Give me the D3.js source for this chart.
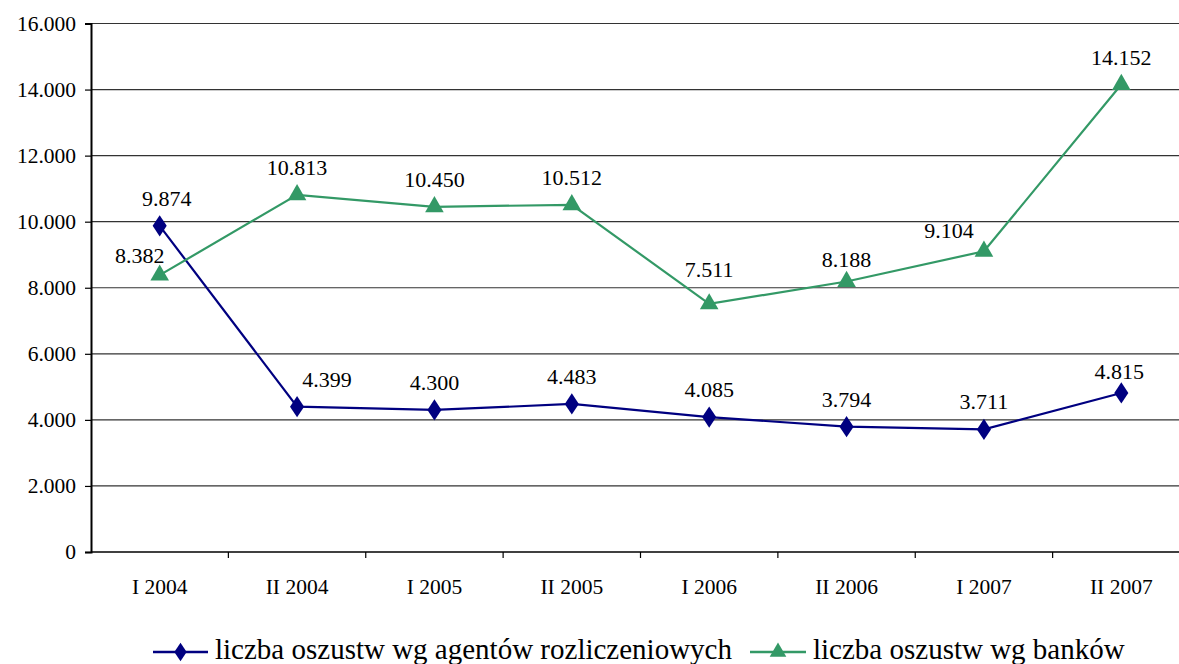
<!DOCTYPE html>
<html>
<head>
<meta charset="utf-8">
<script src="https://cdn.jsdelivr.net/npm/d3@7"></script>
<style>
  html, body { margin: 0; padding: 0; background: #fff; }
  svg { display: block; font-family: "Liberation Serif", "Times New Roman", serif; }
</style>
</head>
<body>
<svg id="chart" width="1179" height="664"></svg>
<script>
// Half-year periods
const categories = ["I 2004", "II 2004", "I 2005", "II 2005", "I 2006", "II 2006", "I 2007", "II 2007"];
// Number of frauds reported by settlement agents
const agentValues = [9874, 4399, 4300, 4483, 4085, 3794, 3711, 4815];
// Number of frauds reported by banks
const bankValues = [8382, 10813, 10450, 10512, 7511, 8188, 9104, 14152];
const seriesNames = ["liczba oszustw wg agentów rozliczeniowych", "liczba oszustw wg banków"];
const yTicks = [0, 2000, 4000, 6000, 8000, 10000, 12000, 14000, 16000];

// Label nudges (dx, dy from the default spot above each point)
const agentLabelNudge = [[7, 0], [30, 0], [0, 0], [0, 0], [0, 0], [0, 0], [0, 0], [-2, 6]];
const bankLabelNudge = [[-20, 8], [0, 0], [0, 0], [0, 0], [0, -7], [0, 5], [-35, 7], [0, 0]];

const svg = d3.select("#chart");
const margin = { left: 91, right: -11, top: 23.5, bottom: 112 };
const W = 1179, H = 664;
const FONT = "'Liberation Serif', 'Times New Roman', serif";

const x = d3.scaleBand().domain(categories).range([margin.left, W - margin.right]);
const y = d3.scaleLinear().domain([0, 16000]).range([H - margin.bottom, margin.top]);

const fmt = v => v === 0 ? "0" : d3.format(",")(v).replace(/,/g, ".");

// Horizontal gridlines
svg.append("g")
  .selectAll("line")
  .data(yTicks.filter(t => t > 0))
  .join("line")
  .attr("x1", margin.left).attr("x2", W - margin.right)
  .attr("y1", d => y(d)).attr("y2", d => y(d))
  .attr("stroke", "#333").attr("stroke-width", 1.2);

// Y axis
const yAxis = svg.append("g")
  .attr("transform", `translate(${margin.left},0)`)
  .call(d3.axisLeft(y).tickValues(yTicks).tickFormat(fmt).tickSize(6).tickPadding(9));
yAxis.attr("font-family", null).attr("font-size", null);
yAxis.select(".domain").attr("stroke", "#000").attr("stroke-width", 2);
yAxis.selectAll(".tick line").attr("stroke", "#000").attr("stroke-width", 1.2);
yAxis.selectAll("text").attr("fill", "#000")
  .style("font-family", FONT).style("font-size", "21.5px");

// X axis with ticks at category boundaries
const xAxisG = svg.append("g").attr("transform", `translate(0,${y(0)})`);
xAxisG.append("line")
  .attr("x1", margin.left).attr("x2", W - margin.right)
  .attr("stroke", "#000").attr("stroke-width", 1.5);
xAxisG.selectAll(".xt")
  .data(categories.slice(1))
  .join("line")
  .attr("class", "xt")
  .attr("x1", d => x(d)).attr("x2", d => x(d))
  .attr("y1", 0).attr("y2", 6)
  .attr("stroke", "#000").attr("stroke-width", 1.2);
xAxisG.selectAll(".xl")
  .data(categories)
  .join("text")
  .attr("class", "xl")
  .attr("x", d => x(d) + x.bandwidth() / 2)
  .attr("y", 42)
  .attr("text-anchor", "middle")
  .style("font-family", FONT).style("font-size", "21.5px")
  .text(d => d);

const cx = i => x(categories[i]) + x.bandwidth() / 2;

const series = [
  { name: seriesNames[0], values: agentValues, color: "#000080", marker: d3.symbolDiamond, size: 130, nudge: agentLabelNudge },
  { name: seriesNames[1], values: bankValues, color: "#339966", marker: d3.symbolTriangle, size: 150, nudge: bankLabelNudge }
];

const line = d3.line().x((d, i) => cx(i)).y(d => y(d));

series.forEach(s => {
  svg.append("path")
    .datum(s.values)
    .attr("d", line)
    .attr("fill", "none")
    .attr("stroke", s.color)
    .attr("stroke-width", 2.2);

  svg.append("g").selectAll("path")
    .data(s.values)
    .join("path")
    .attr("d", d3.symbol().type(s.marker).size(s.size))
    .attr("transform", (d, i) => `translate(${cx(i)},${y(d)})` + (s.marker === d3.symbolDiamond ? " scale(1.15,1)" : ""))
    .attr("fill", s.color);

  svg.append("g").selectAll("text")
    .data(s.values)
    .join("text")
    .attr("x", (d, i) => cx(i) + s.nudge[i][0])
    .attr("y", (d, i) => y(d) - 20 + s.nudge[i][1])
    .attr("text-anchor", "middle")
    .style("font-family", FONT).style("font-size", "22px")
    .attr("fill", "#000")
    .text(d => fmt(d));
});

// Legend
const legend = svg.append("g").attr("transform", "translate(0,652)");
const legendItems = [
  { s: series[0], x0: 153, x1: 208, tx: 215 },
  { s: series[1], x0: 750, x1: 806, tx: 813 }
];
legendItems.forEach(it => {
  legend.append("line")
    .attr("x1", it.x0).attr("x2", it.x1)
    .attr("stroke", it.s.color).attr("stroke-width", 2.5);
  legend.append("path")
    .attr("d", d3.symbol().type(it.s.marker).size(it.s.marker === d3.symbolDiamond ? 100 : 120))
    .attr("transform", `translate(${(it.x0 + it.x1) / 2},0)` + (it.s.marker === d3.symbolDiamond ? " scale(1.15,1)" : ""))
    .attr("fill", it.s.color);
  legend.append("text")
    .attr("x", it.tx).attr("y", 7)
    .style("font-family", FONT).style("font-size", "29px")
    .attr("fill", "#000")
    .text(it.s.name);
});
</script>
</body>
</html>
